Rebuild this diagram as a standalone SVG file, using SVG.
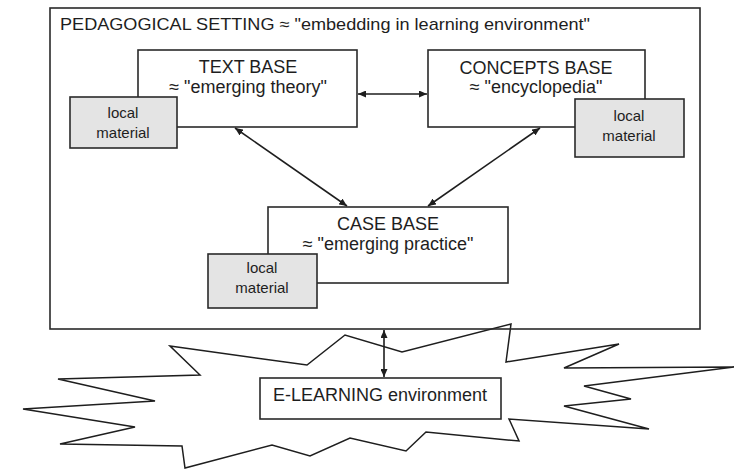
<svg xmlns="http://www.w3.org/2000/svg" width="734" height="472" viewBox="0 0 734 472">
<defs>
<marker id="arr" viewBox="0 0 8 7" refX="8" refY="3.5" markerWidth="8" markerHeight="7" markerUnits="userSpaceOnUse" orient="auto-start-reverse">
<path d="M0,0 L8,3.5 L0,7 z" fill="#1e1e1e"/>
</marker>
<style>
.box{fill:#fff;stroke:#2a2a2a;stroke-width:1.6}
.loc{fill:#e4e4e4;stroke:#2a2a2a;stroke-width:1.6}
.t{font-family:"Liberation Sans",Arial,sans-serif;font-size:18px;fill:#1e1e1e;text-anchor:middle}
.s{font-family:"Liberation Sans",Arial,sans-serif;font-size:15px;fill:#1e1e1e;text-anchor:middle}
.c{stroke:#1e1e1e;stroke-width:1.6;fill:none}
</style>
</defs>
<rect width="734" height="472" fill="#fff"/>
<g id="star">
<polygon points="170,346 307,365 345,335 402,352 511,324 506,362 619,344 564,368 734,367 584,386 631,399 564,406 649,429 509,419 519,441 426,432 406,451 350,438 310,456 272,445 185,468 182,446 60,444 135,427 23,409 155,401 58,379 200,375" fill="#fff" stroke="#1e1e1e" stroke-width="1.5" stroke-linejoin="miter"/>
</g>
<g id="pedagogical-setting">
<rect x="50" y="8" width="650" height="321" fill="none" stroke="#2a2a2a" stroke-width="1.6"/>
<text x="60" y="30" font-family="'Liberation Sans',Arial,sans-serif" font-size="17" fill="#1e1e1e" textLength="530" lengthAdjust="spacingAndGlyphs">PEDAGOGICAL SETTING ≈ "embedding in learning environment"</text>
</g>
<g id="text-base">
<rect class="box" x="138" y="50" width="219" height="77"/>
<text class="t" x="248" y="73">TEXT BASE</text>
<text class="t" x="248" y="93">≈ "emerging theory"</text>
</g>
<g id="text-local">
<rect class="loc" x="70" y="97" width="107" height="51"/>
<text class="s" x="123" y="118">local</text>
<text class="s" x="123" y="138">material</text>
</g>
<g id="concepts-base">
<rect class="box" x="428" y="50" width="217" height="77"/>
<text class="t" x="536" y="74">CONCEPTS BASE</text>
<text class="t" x="536" y="93">≈ "encyclopedia"</text>
</g>
<g id="concepts-local">
<rect class="loc" x="575" y="99" width="109" height="58"/>
<text class="s" x="629" y="121">local</text>
<text class="s" x="629" y="141">material</text>
</g>
<g id="case-base">
<rect class="box" x="268" y="207" width="240" height="76"/>
<text class="t" x="388" y="230">CASE BASE</text>
<text class="t" x="388" y="250">≈ "emerging practice"</text>
</g>
<g id="case-local">
<rect class="loc" x="208" y="254" width="109" height="54"/>
<text class="s" x="262" y="273">local</text>
<text class="s" x="262" y="293">material</text>
</g>
<g id="elearning">
<rect class="box" x="260" y="378" width="241" height="41"/>
<text class="t" x="380" y="401">E-LEARNING environment</text>
</g>
<g id="connectors">
<line class="c" x1="358" y1="94" x2="427" y2="94" marker-start="url(#arr)" marker-end="url(#arr)"/>
<line class="c" x1="235" y1="128" x2="347" y2="206" marker-start="url(#arr)" marker-end="url(#arr)"/>
<line class="c" x1="540" y1="128" x2="428" y2="206" marker-start="url(#arr)" marker-end="url(#arr)"/>
<line class="c" x1="384" y1="330" x2="384" y2="377" marker-start="url(#arr)" marker-end="url(#arr)"/>
</g>
</svg>
